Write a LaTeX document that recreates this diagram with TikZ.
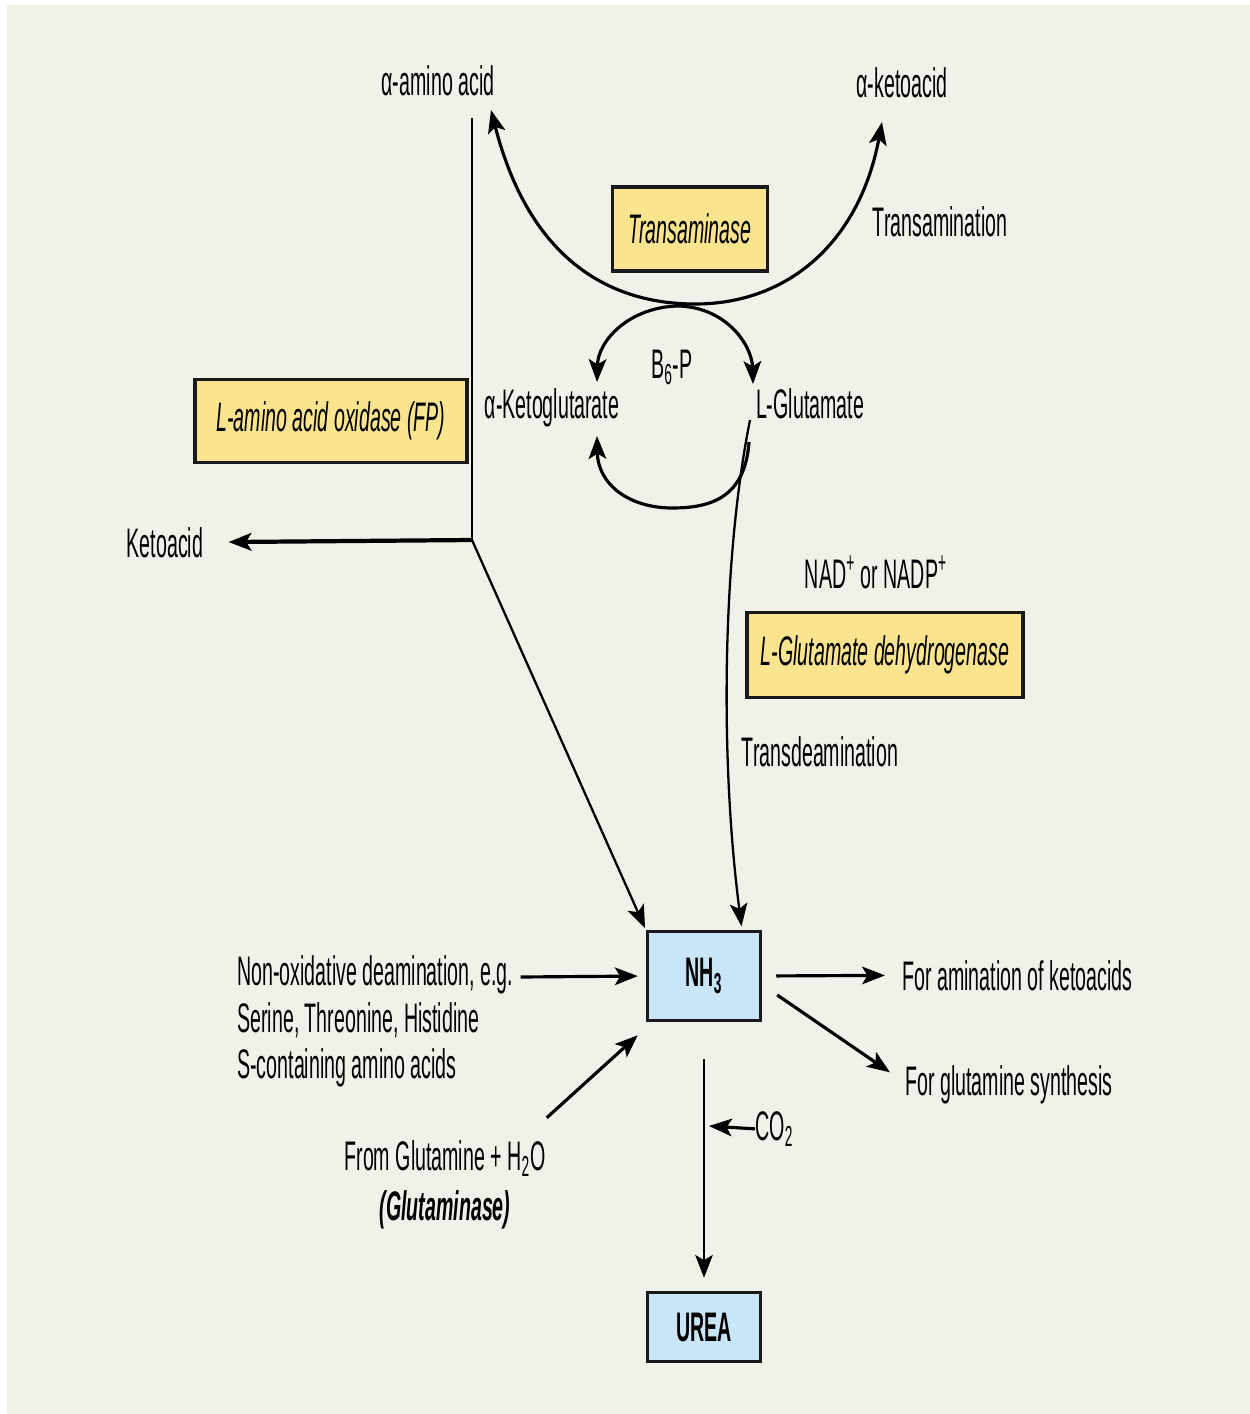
\documentclass[tikz,border=0pt]{standalone}
\usepackage{fontspec}
\setmainfont[FakeStretch=0.475]{Liberation Sans}
\usepackage{tikz}
\usetikzlibrary{arrows.meta,positioning,calc}
\definecolor{paper}{RGB}{241,241,233}
\definecolor{enzymeyellow}{RGB}{251,228,142}
\definecolor{poolblue}{RGB}{200,230,247}

\begin{document}
\begin{tikzpicture}[
    x=0.02cm, y=-0.02cm,
    >={Stealth[length=13pt,width=10pt,inset=3pt]},
    font=\fontsize{23.5}{26.6}\selectfont,
    txt/.style={
		inner sep=0pt,
		anchor=base
	},
    enzyme/.style={
		rectangle,
		draw=black!90,
		line width=2pt,
		fill=enzymeyellow,
		text centered,
		font=\fontsize{23.5}{26.6}\selectfont\itshape
	},
    pool/.style={
		rectangle,
		draw=black!90,
		line width=2pt,
		fill=poolblue,
		minimum width=2.26cm,
		font=\fontsize{23.5}{26.6}\selectfont\bfseries
	},
    flow/.style={
		->,
		line width=1.8pt
	},
    thinflow/.style={
		->,
		line width=1.3pt
	}
  ]
  % background and page size
  \fill[white] (0,0) rectangle (1250,1414);
  \fill[paper] (7,5) rectangle (1250,1414);
  \useasboundingbox (0,0) rectangle (1250,1414);

  % We start by placing the texts and the enzyme boxes
  \node [txt] (aa) at (438,95) {α-amino acid};
  \node [txt] (ka) at (902,97) {α-ketoacid};
  \node [enzyme, minimum width=3.1cm, minimum height=1.68cm] (tase) at (690,229) {Transaminase};
  \node [txt] (tam) at (940,236) {Transamination};
  \node [txt] (b6p) at (672,378) {B\textsubscript{6}-P};
  \node [txt] (akg) at (552,418) {α-Ketoglutarate};
  \node [txt] (lglu) at (810,418) {L-Glutamate};
  \node [enzyme, minimum width=5.44cm, minimum height=1.66cm] (laao) at (331,421) {L-amino acid oxidase (FP)};
  \node [txt] (keto) at (165,557) {Ketoacid};
  \node [txt] (nad) at (876,588) {NAD\textsuperscript{+} or NADP\textsuperscript{+}};
  \node [enzyme, minimum width=5.52cm, minimum height=1.7cm] (gdh) at (885,655) {L-Glutamate dehydrogenase};
  \node [txt] (tdam) at (820,766) {Transdeamination};

  % ammonia and its fates
  \node [pool, minimum height=1.78cm] (nh3) at (704,976) {NH\textsubscript{3}};
  \node [pool, minimum height=1.38cm] (urea) at (704,1327) {UREA};
  \node [txt, anchor=north west, align=left] (nonox) at (237,955)
   {Non-oxidative deamination, e.g.\\Serine, Threonine, Histidine\\S-containing amino acids};
  \node [txt] (fromgln) at (445,1170) {From Glutamine + H\textsubscript{2}O};
  \node [txt, font=\fontsize{23.5}{26.6}\selectfont\bfseries\itshape] (glnase) at (445,1220) {(Glutaminase)};
  \node [txt, anchor=base west] (amin) at (902,990) {For amination of ketoacids};
  \node [txt, anchor=base west] (gsyn) at (905,1095) {For glutamine synthesis};
  \node [txt, anchor=base west] (co2) at (755,1140) {CO\textsubscript{2}};

  % free ends
  \coordinate (aa-in) at (491,110);
  \coordinate (ka-in) at (882,122);
  \coordinate (pivot) at (678,306);
  \coordinate (stem) at (472,118);
  \coordinate (junc) at (472,540);
  \coordinate (akg-in) at (597,382);
  \coordinate (lglu-in) at (753,384);
  \coordinate (lglu-out) at (749,442);
  \coordinate (akg-back) at (597,436);
  \coordinate (co2in) at (709,1126);

  % transamination
  \draw [flow, <->] (aa-in) .. controls (530,262) and (612,304) .. (695,304)
        .. controls (790,304) and (860,240) .. (ka-in);
  \draw [flow] (pivot) .. controls (630,307) and (598,340) .. (akg-in);
  \draw [flow] (pivot) .. controls (726,307) and (752,345) .. (lglu-in);
  \draw [flow] (lglu-out) .. controls (745,497) and (712,508) .. (672,508)
        .. controls (630,508) and (598,485) .. (akg-back);

  % oxidative deamination
  \draw [line width=1.3pt] (stem) -- (junc);
  \draw [->, line width=2.4pt, shorten >=0.5cm] (junc) -- (keto.east);
  \draw [thinflow, shorten >=1pt] (junc) -- (nh3.north west);

  % transdeamination
  \draw [thinflow, shorten >=2pt] (750,420) .. controls (722,560) and (720,760) .. ([xshift=0.76cm]nh3.north);

  % into and out of the ammonia pool
  \draw [flow, shorten >=0.16cm] ($(nonox.north east)+(7,22)$) -- (nh3.west);
  \draw [flow] ($(fromgln.north east)+(1,-22)$) -- ($(nh3.south west)+(-8,13)$);
  \draw [flow, shorten <=0.28cm, shorten >=0.34cm] (nh3.east) -- (amin.west);
  \draw [flow] ($(nh3.east)+(15,19)$) -- ($(gsyn.west)+(-15,-12)$);
  \draw [thinflow, shorten <=0.74cm, shorten >=0.26cm] (nh3.south) -- (urea.north);
  \draw [flow] (co2.west) -- (co2in);

\end{tikzpicture}
\end{document}
